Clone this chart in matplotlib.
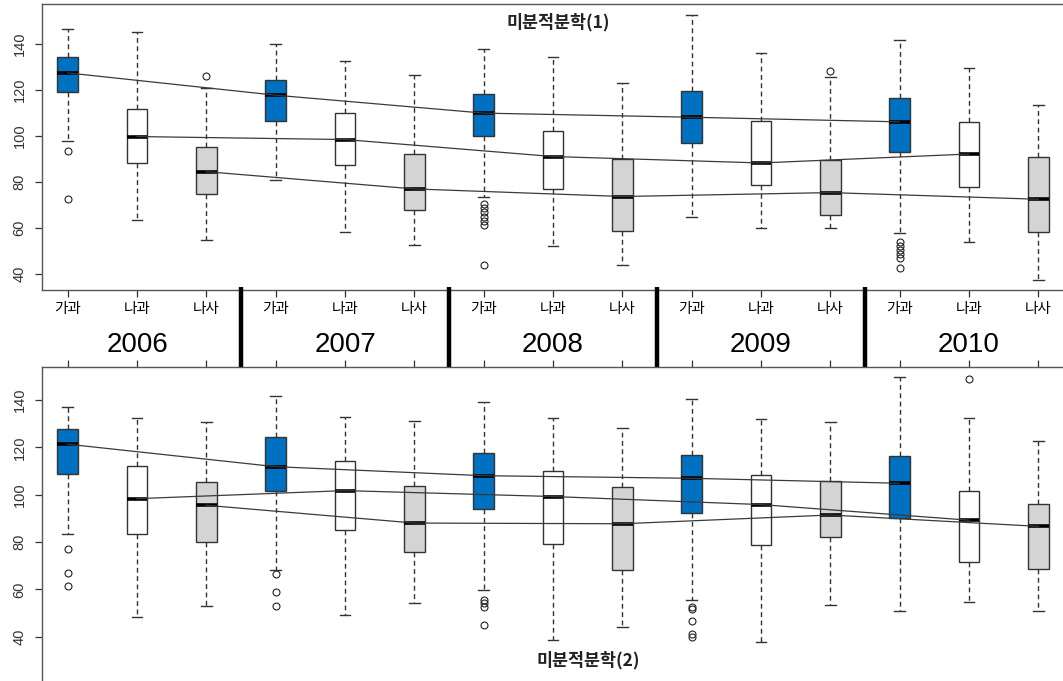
import numpy as np
import matplotlib.pyplot as plt

years = ["2006", "2007", "2008", "2009", "2010"]
groups = ["가과", "나과", "나사"]

# 미분적분학(1): box statistics, one value per box (year x group)
c1_hi  = [146.8, 145.2, 120.8, 140.0, 132.6, 126.6, 138.1, 134.6, 123.0, 152.8, 136.3, 125.9, 141.9, 129.7, 113.6]
c1_q3  = [134.6, 111.7, 95.2, 124.6, 110.2, 92.1, 118.2, 102.3, 90.0, 119.7, 106.5, 89.8, 116.6, 106.0, 91.1]
c1_med = [127.5, 99.8, 84.5, 117.8, 98.5, 77.0, 110.0, 91.1, 73.7, 108.2, 88.3, 75.4, 106.2, 92.2, 72.5]
c1_q1  = [119.1, 88.3, 75.0, 106.5, 87.3, 67.7, 100.2, 77.0, 58.7, 96.9, 78.7, 65.5, 93.0, 77.7, 58.2]
c1_lo  = [98.0, 63.5, 54.8, 80.9, 58.1, 52.6, 73.7, 52.2, 43.8, 64.8, 60.0, 60.0, 57.7, 53.8, 37.4]
c1_out = [[93.4, 72.5], [], [126.3], [], [], [],
          [70.4, 68.6, 66.9, 64.9, 63.2, 61.3, 43.8], [], [], [], [], [128.5],
          [54.1, 52.3, 50.4, 48.7, 46.8, 42.7], [], []]

# 미분적분학(2)
c2_hi  = [136.8, 132.3, 130.6, 141.8, 132.7, 131.3, 139.2, 132.3, 128.2, 140.4, 132.1, 130.6, 149.8, 132.5, 122.8]
c2_q3  = [127.7, 112.3, 105.2, 124.4, 114.4, 103.5, 117.5, 109.9, 103.2, 116.6, 108.4, 105.9, 116.2, 101.6, 96.2]
c2_med = [121.3, 98.3, 95.5, 111.8, 101.7, 88.0, 108.0, 99.2, 87.7, 106.9, 95.8, 91.4, 104.8, 89.2, 86.6]
c2_q1  = [108.6, 83.5, 79.9, 101.7, 85.2, 75.8, 93.8, 79.2, 68.2, 92.1, 78.7, 82.0, 90.0, 71.4, 68.5]
c2_lo  = [83.3, 48.5, 53.0, 68.0, 49.3, 54.1, 59.6, 38.6, 44.0, 55.5, 37.8, 53.3, 51.0, 54.7, 51.0]
c2_out = [[77.0, 66.9, 61.6], [], [], [66.5, 58.9, 53.0], [], [],
          [55.5, 54.1, 52.7, 44.8], [], [], [52.7, 51.8, 46.8, 41.1, 39.7], [], [],
          [], [149.0], []]

blue = "#0070C0"
grey = "#D4D3D6"
box_colors = [blue, "white", grey] * len(years)
pos = np.arange(1, len(years) * len(groups) + 1)

kr = ["Noto Sans CJK KR", "DejaVu Sans"]
num = ["Liberation Sans", "DejaVu Sans"]

W, H = 1063, 681
fig = plt.figure(figsize=(W / 100, H / 100), dpi=100)
ax1 = fig.add_axes([42 / W, (H - 290) / H, 1 - 42 / W, 286 / H])
ax2 = fig.add_axes([42 / W, 0, 1 - 42 / W, (H - 367) / H])


def draw_panel(ax, hi, q3, med, q1, lo, out):
    stats = []
    for i in range(len(med)):
        stats.append({"med": med[i], "q1": q1[i], "q3": q3[i],
                      "whislo": lo[i], "whishi": hi[i], "fliers": out[i]})
    bp = ax.bxp(stats, positions=pos, widths=0.30, capwidths=0.155,
                patch_artist=True, showfliers=True,
                boxprops=dict(edgecolor="#333333", linewidth=1.0),
                medianprops=dict(color="black", linewidth=2.6, solid_capstyle="butt"),
                whiskerprops=dict(color="#333333", linewidth=1.0, linestyle=(0, (3.5, 2.5))),
                capprops=dict(color="#333333", linewidth=1.0),
                flierprops=dict(marker="o", markersize=5, markerfacecolor="none",
                                markeredgecolor="#222222", markeredgewidth=0.8))
    for patch, c in zip(bp["boxes"], box_colors):
        patch.set_facecolor(c)
    # median trend lines for each group across years
    for g in range(len(groups)):
        ax.plot(pos[g::3], med[g::3], color="#3a3a3a", lw=0.9, zorder=4)
    ax.set_xlim(0.629, 15.356)
    ax.set_yticks([40, 60, 80, 100, 120, 140])
    ax.tick_params(axis="y", labelrotation=90, length=5, width=0.9, pad=6,
                   labelsize=10.5, colors="#333333")
    for lab in ax.get_yticklabels():
        lab.set_va("center")
        lab.set_family(num)
    ax.spines["right"].set_visible(False)
    for s in ax.spines.values():
        s.set_color("#555555")
        s.set_linewidth(1.0)


draw_panel(ax1, c1_hi, c1_q3, c1_med, c1_q1, c1_lo, c1_out)
draw_panel(ax2, c2_hi, c2_q3, c2_med, c2_q1, c2_lo, c2_out)

ax1.set_ylim(33.0, 157.5)
ax2.set_ylim(21.3, 153.9)

ax1.set_xticks(pos)
ax1.set_xticklabels(groups * len(years), family=kr, fontsize=10.5)
ax1.tick_params(axis="x", length=5, width=0.9, pad=4, colors="#333333")
for lab in ax1.get_xticklabels():
    lab.set_color("black")

ax2.set_xticks(pos)
ax2.tick_params(axis="x", top=True, bottom=False, labelbottom=False,
                length=5, width=0.9, colors="#333333")
ax2.spines["bottom"].set_visible(False)

# year labels and thick separators between the two panels
xt = ax1.get_xaxis_transform()
for i, y in enumerate(years):
    ax1.text(pos[i * 3 + 1], -0.192, y, transform=xt, ha="center", va="center",
             fontsize=20, family=num, color="black")
for i in range(1, len(years)):
    ax1.plot([pos[i * 3] - 0.5] * 2, [0.012, -0.283], transform=xt, color="black",
             lw=3.2, solid_capstyle="butt", clip_on=False, zorder=5)

fig.text(558 / W, 1 - 22 / H, "미분적분학(1)", family=kr, fontsize=12.5,
         fontweight="bold", ha="center", va="center", color="#222222")
fig.text(588 / W, 1 - 660 / H, "미분적분학(2)", family=kr, fontsize=12.5,
         fontweight="bold", ha="center", va="center", color="#222222")

fig.savefig("out.png", dpi=100)
